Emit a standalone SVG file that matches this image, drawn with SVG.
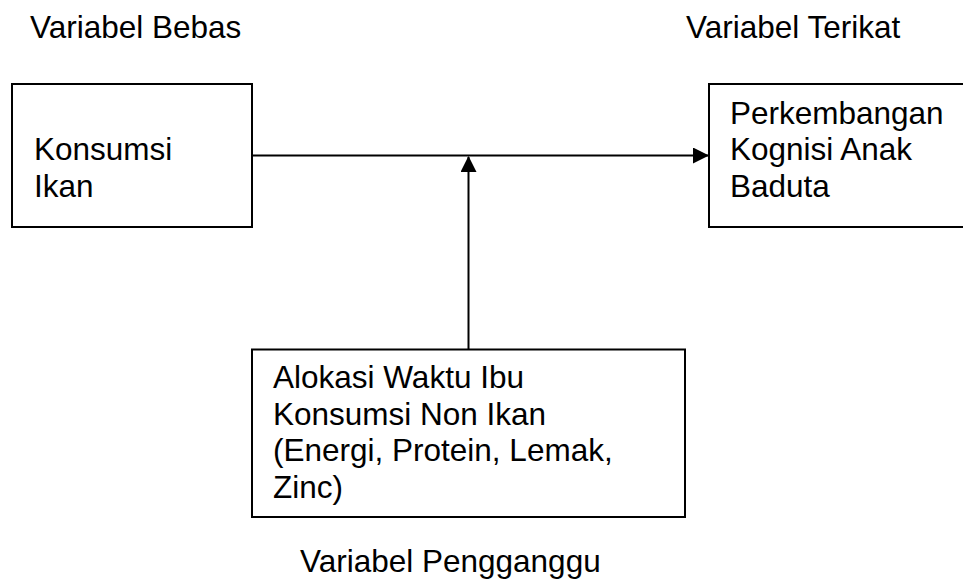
<svg xmlns="http://www.w3.org/2000/svg" width="963" height="581" viewBox="0 0 963 581">
<style>
text{font-family:"Liberation Sans",Arial,sans-serif;font-size:31.5px;fill:#000}
.box{fill:#fff;stroke:#000;stroke-width:2}
.line{stroke:#000;stroke-width:2;fill:none}
</style>
<defs>
<marker id="arr" markerWidth="16" markerHeight="16" refX="15" refY="8" orient="auto" markerUnits="userSpaceOnUse" viewBox="0 0 16 16">
<path d="M0,0 L16,8 L0,16 Z" fill="#000"/>
</marker>
</defs>
<rect width="963" height="581" fill="#fff"/>
<text x="30" y="38">Variabel Bebas</text>
<text x="686" y="38">Variabel Terikat</text>
<text x="300" y="572">Variabel Pengganggu</text>
<g id="connectors">
<line class="line" x1="252" y1="155.5" x2="708" y2="155.5" marker-end="url(#arr)"/>
<line class="line" x1="468.5" y1="349.5" x2="468.5" y2="157" marker-end="url(#arr)"/>
</g>
<g id="konsumsi-ikan">
<rect class="box" x="12" y="84" width="240" height="143"/>
<text x="34" y="160">Konsumsi</text>
<text x="34" y="197">Ikan</text>
</g>
<g id="perkembangan">
<rect class="box" x="709" y="84" width="270" height="143"/>
<text x="730" y="124">Perkembangan</text>
<text x="730" y="160">Kognisi Anak</text>
<text x="730" y="197">Baduta</text>
</g>
<g id="pengganggu">
<rect class="box" x="252" y="349.5" width="433" height="167.5"/>
<text x="273" y="388">Alokasi Waktu Ibu</text>
<text x="273" y="425">Konsumsi Non Ikan</text>
<text x="273" y="461">(Energi, Protein, Lemak,</text>
<text x="273" y="498">Zinc)</text>
</g>
</svg>
